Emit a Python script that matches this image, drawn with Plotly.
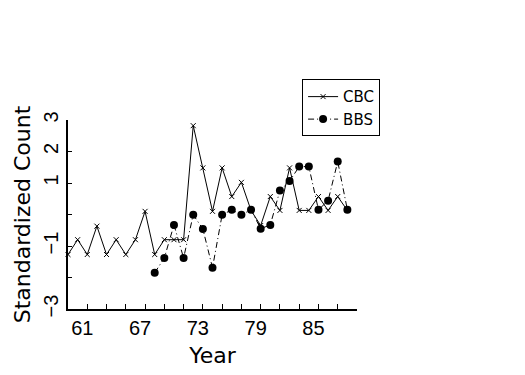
import plotly.graph_objects as go

years_cbc = list(range(1959, 1989))
cbc = [-1.27, -0.80, -1.27, -0.37, -1.27, -0.80, -1.27, -0.80, 0.10, -1.27,
       -0.80, -0.80, -0.80, 2.82, 1.48, 0.10, 1.48, 0.57, 1.02, 0.13,
       -0.35, 0.57, 0.13, 1.48, 0.13, 0.13, 0.57, 0.13, 0.57, 0.13]
years_bbs = list(range(1968, 1989))
bbs = [-1.85, -1.38, -0.33, -1.38, -0.01, -0.46, -1.69, -0.01, 0.15, -0.01,
       0.15, -0.45, -0.33, 0.76, 1.06, 1.52, 1.52, 0.15, 0.44, 1.68, 0.15]

x_tick_vals = [61, 67, 73, 79, 85]
x_tick_text = ["61", "67", "73", "79", "85"]
x_minor_vals = list(range(61, 90, 2))
y_tick_vals = [3, 2, 1, 0, -1, -2, -3]
y_tick_text = ["3", "2", "1", "", "\u22121", "", "\u22123"]

short = lambda ys: [y - 1900 for y in ys]

fig = go.Figure()
fig.add_trace(go.Scatter(
    x=short(years_cbc), y=cbc, name="CBC", mode="lines+markers",
    line=dict(color="black", width=1),
    marker=dict(symbol="x-thin", size=5, line=dict(color="black", width=1)),
    cliponaxis=False))
fig.add_trace(go.Scatter(
    x=short(years_bbs), y=bbs, name="BBS", mode="lines+markers",
    line=dict(color="black", width=1, dash="6px,3px,1px,3px"),
    marker=dict(symbol="circle", size=8, color="black"),
    cliponaxis=False))

font_fam = "DejaVu Sans"
fig.update_layout(
    width=525, height=375,
    margin=dict(l=68, r=168, t=120, b=66),
    paper_bgcolor="white", plot_bgcolor="white",
    font=dict(family=font_fam, color="black"),
    showlegend=True,
    legend=dict(x=0.81, y=1.215, xanchor="left", yanchor="top",
                bordercolor="black", borderwidth=1, bgcolor="white",
                font=dict(size=15, family=font_fam), tracegroupgap=0,
                itemwidth=30),
    xaxis=dict(range=[59, 89], showgrid=False, zeroline=False,
               showline=True, linecolor="black", linewidth=2,
               tickvals=x_tick_vals, ticktext=x_tick_text,
               ticks="inside", ticklen=5, tickcolor="black",
               minor=dict(tickvals=x_minor_vals, ticks="inside", ticklen=5,
                          tickcolor="black"),
               ticklabelshift=-5,
               tickfont=dict(size=20, family="Liberation Sans"),
               title=dict(text="Year", font=dict(size=22), standoff=10)),
    yaxis=dict(range=[-3, 3], showgrid=False, zeroline=False,
               showline=True, linecolor="black", linewidth=2,
               tickvals=y_tick_vals, ticktext=y_tick_text,
               ticks="inside", ticklen=4, tickcolor="black",
               tickangle=-90,
               tickfont=dict(size=20, family="Liberation Sans"),
               title=dict(text="Standardized Count", font=dict(size=22),
                          standoff=3)),
)

fig.write_html("out.html",
               config={"displayModeBar": False},
               post_script="document.body.style.margin='0px';")
